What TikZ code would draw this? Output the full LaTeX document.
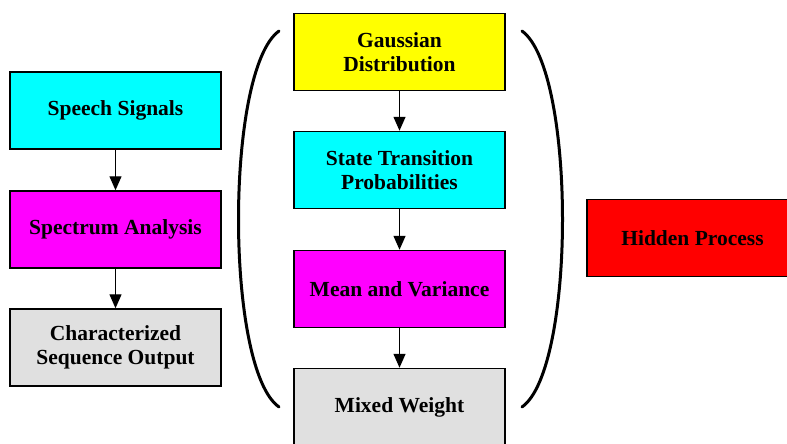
\documentclass[tikz,border=0pt]{standalone}
\usepackage{fontspec}
\setmainfont{Liberation Serif}
\usetikzlibrary{arrows.meta, positioning}
\definecolor{proccyan}{RGB}{0, 255, 255}
\definecolor{procmag}{RGB}{255, 0, 255}
\definecolor{procyellow}{RGB}{255, 255, 0}
\definecolor{procred}{RGB}{255, 0, 0}
\definecolor{procgray}{RGB}{224, 224, 224}

\tikzset{
  stagebox/.style={draw=black, line width=1.5pt, minimum width=211pt, minimum height=77pt,
    align=center, inner sep=0pt, font=\fontsize{21.5}{24}\selectfont\bfseries},
  flowarrow/.style={-{Triangle[length=14pt,width=12pt]}, line width=1.4pt},
  bracket/.style={line width=3pt, line cap=round}
}

\begin{document}
\begin{tikzpicture}[x=1pt, y=-1pt]
    \useasboundingbox (0,0) rectangle (787,444);
    \clip (0,0) rectangle (787,444);
    % left column
    \node[stagebox, fill=proccyan]   (speech)   at (115.5,110.5) {Speech Signals};
    \node[stagebox, fill=procmag]    (spectrum) at (115.5,229.5) {Spectrum Analysis};
    \node[stagebox, fill=procgray]   (output)   at (115.5,347.5) {Characterized\\Sequence Output};
    % middle column
    \node[stagebox, fill=procyellow] (gauss)    at (399.5,52)    {Gaussian\\Distribution};
    \node[stagebox, fill=proccyan]   (trans)    at (399.5,170)   {State Transition\\Probabilities};
    \node[stagebox, fill=procmag]    (meanvar)  at (399.5,289)   {Mean and Variance};
    \node[stagebox, fill=procgray]   (weight)   at (399.5,407)   {Mixed Weight};
    % right, cut off by the page edge
    \node[stagebox, fill=procred]    (hidden)   at (692.5,238)   {Hidden Process};
    \draw[flowarrow] (speech) -- (spectrum);
    \draw[flowarrow] (spectrum) -- (output);
    \draw[flowarrow] (gauss) -- (trans);
    \draw[flowarrow] (trans) -- (meanvar);
    \draw[flowarrow] (meanvar) -- (weight);
    % brackets
    \draw[bracket] (279,31) .. controls (225,70) and (225,369) .. (279,407);
    \draw[bracket] (522,31) .. controls (576,70) and (576,369) .. (522,407);
  \end{tikzpicture}
\end{document}
